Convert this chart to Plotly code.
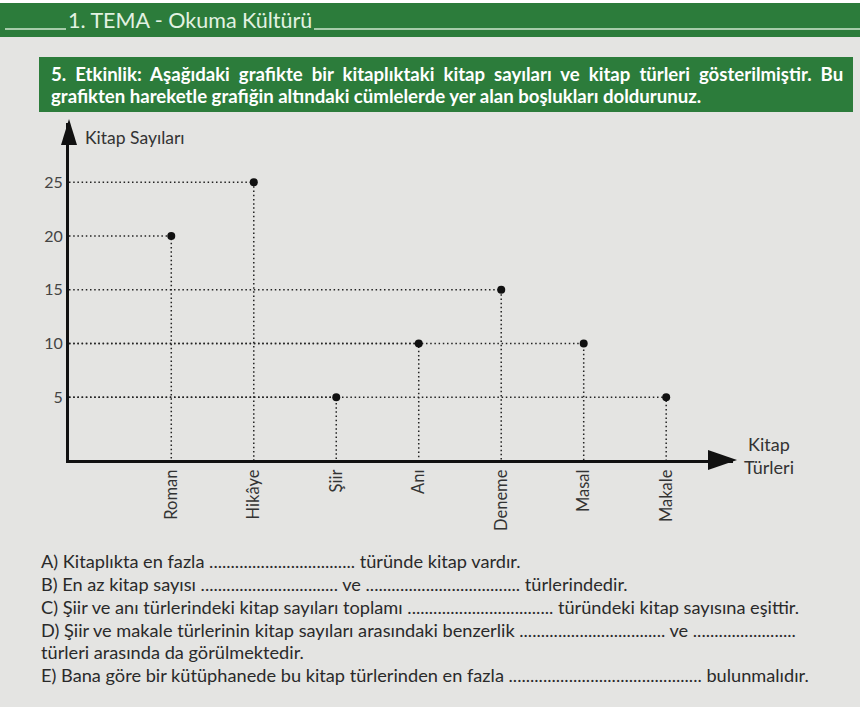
import plotly.graph_objects as go

# ---- data ----
categories = ["Roman", "Hikâye", "Şiir", "Anı", "Deneme", "Masal", "Makale"]
book_counts = [20, 25, 5, 10, 15, 10, 5]
y_ticks = [5, 10, 15, 20, 25]
y_title = "Kitap Sayıları"
x_title = "Kitap<br>Türleri"
header_text = "1. TEMA - Okuma Kültürü"
instruction_lines = [
    "5. Etkinlik: Aşağıdaki grafikte bir kitaplıktaki kitap sayıları ve kitap türleri gösterilmiştir. Bu",
    "grafikten hareketle grafiğin altındaki cümlelerde yer alan boşlukları doldurunuz.",
]
question_lines = [
    "A) Kitaplıkta en fazla " + "." * 34 + " türünde kitap vardır.",
    "B) En az kitap sayısı " + "." * 32 + " ve " + "." * 36 + " türlerindedir.",
    "C) Şiir ve anı türlerindeki kitap sayıları toplamı " + "." * 34 + " türündeki kitap sayısına eşittir.",
    "D) Şiir ve makale türlerinin kitap sayıları arasındaki benzerlik " + "." * 34 + " ve " + "." * 24,
    "türleri arasında da görülmektedir.",
    "E) Bana göre bir kütüphanede bu kitap türlerinden en fazla " + "." * 45 + " bulunmalıdır.",
]

# ---- layout geometry (pixels) ----
FW, FH = 860, 707
L, R, T, B = 69, 733, 123, 460
W, H = R - L, B - T
X_RANGE = [-1.24, 6.81]
Y_RANGE = [-0.84, 30.5]

def px(x):
    return (x - L) / W

def py(y):
    return (B - y) / H

BG = "#e4e4e2"
GREEN = "#2c7c3b"
FONT = "Lato"

idx = list(range(len(categories)))

# dotted guide lines
gx, gy = [], []
for i, v in zip(idx, book_counts):
    gx += [X_RANGE[0], i, i, None]
    gy += [v, v, Y_RANGE[0], None]

fig = go.Figure()
fig.add_trace(go.Scatter(
    x=gx, y=gy, mode="lines",
    line=dict(color="#222", width=1.5, dash="1.5px,2.7px"),
    hoverinfo="skip", showlegend=False,
))
fig.add_trace(go.Scatter(
    x=idx, y=book_counts, mode="markers",
    marker=dict(color="#111", size=8),
    showlegend=False,
))

shapes = []
# header bar
shapes.append(dict(type="rect", xref="paper", yref="paper",
                   x0=px(0), x1=px(FW), y0=py(37), y1=py(3),
                   fillcolor=GREEN, line=dict(width=0), layer="below"))
shapes.append(dict(type="rect", xref="paper", yref="paper",
                   x0=px(0), x1=px(FW), y0=py(3), y1=py(0),
                   fillcolor="#ffffff", line=dict(width=0), layer="below"))
shapes.append(dict(type="line", xref="paper", yref="paper",
                   x0=px(5), x1=px(66), y0=py(29), y1=py(29),
                   line=dict(color="#cfe6cf", width=1.5)))
shapes.append(dict(type="line", xref="paper", yref="paper",
                   x0=px(314), x1=px(FW), y0=py(29), y1=py(29),
                   line=dict(color="#cfe6cf", width=1.5)))
# instruction box
shapes.append(dict(type="rect", xref="paper", yref="paper",
                   x0=px(39), x1=px(853), y0=py(112), y1=py(57),
                   fillcolor=GREEN, line=dict(width=0), layer="below"))
# arrow heads
shapes.append(dict(type="path", xref="paper", yref="paper",
                   path=f"M {px(737)},{py(460)} L {px(708)},{py(470)} L {px(708)},{py(450)} Z",
                   fillcolor="#111", line=dict(width=0)))
shapes.append(dict(type="path", xref="paper", yref="paper",
                   path=f"M {px(69)},{py(119)} L {px(61)},{py(145)} L {px(77)},{py(145)} Z",
                   fillcolor="#111", line=dict(width=0)))

annotations = []
annotations.append(dict(xref="paper", yref="paper", x=px(66), y=py(20),
                        xanchor="left", yanchor="middle", showarrow=False,
                        text=header_text,
                        font=dict(family=FONT, size=21.5, color="#e2f2e2")))
for k, line in enumerate(instruction_lines):
    if k == 0:
        line = line.replace(" ", " \u00a0")  # justified first line
    annotations.append(dict(xref="paper", yref="paper", x=px(49), y=py(74 + 22 * k),
                            xanchor="left", yanchor="middle", showarrow=False,
                            text="<b>" + line + "</b>",
                            font=dict(family=FONT, size=18.6, color="#ffffff")))
annotations.append(dict(xref="paper", yref="paper", x=px(83), y=py(137),
                        xanchor="left", yanchor="middle", showarrow=False,
                        text=y_title, font=dict(family=FONT, size=17.5, color="#333")))
annotations.append(dict(xref="paper", yref="paper", x=px(769), y=py(455),
                        xanchor="center", yanchor="middle", showarrow=False,
                        text=x_title, font=dict(family=FONT, size=18, color="#333")))
q_y = [561, 584, 607, 630, 652, 675]
for line, yy in zip(question_lines, q_y):
    annotations.append(dict(xref="paper", yref="paper", x=px(39), y=py(yy),
                            xanchor="left", yanchor="middle", showarrow=False,
                            text=line, font=dict(family=FONT, size=18.2, color="#2a2a2a")))

fig.update_layout(
    width=FW, height=FH,
    margin=dict(l=L, r=FW - R, t=T, b=FH - B, pad=0),
    paper_bgcolor=BG, plot_bgcolor=BG,
    shapes=shapes, annotations=annotations,
    xaxis=dict(range=X_RANGE, tickmode="array", tickvals=idx, ticktext=categories,
               tickangle=-90, showgrid=False, zeroline=False, showline=True,
               linecolor="#111", linewidth=3, ticks="",
               tickfont=dict(family=FONT, size=16.5, color="#333")),
    yaxis=dict(range=Y_RANGE, tickmode="array", tickvals=y_ticks,
               showgrid=False, zeroline=False, showline=True,
               linecolor="#111", linewidth=3, ticks="",
               tickfont=dict(family=FONT, size=16, color="#444")),
    showlegend=False,
)

fig.write_html("out.html", config={"displayModeBar": False},
               post_script="document.body.style.margin='0';document.body.style.background='%s';" % BG)
